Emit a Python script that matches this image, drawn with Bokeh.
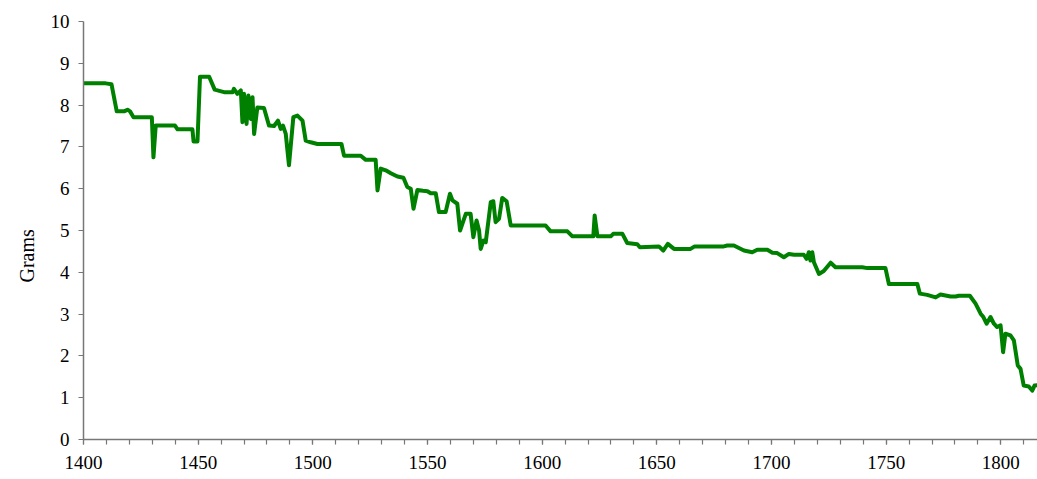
from bokeh.plotting import figure
from bokeh.models import FixedTicker, Range1d, Title
from bokeh.embed import file_html
from bokeh.resources import INLINE

years = [1400.0, 1409.7, 1412.2, 1414.5, 1417.7, 1419.2, 1420.3, 1421.8, 1429.8, 1430.5,
         1431.5, 1439.9, 1441.0, 1447.5, 1448.0, 1449.7, 1450.8, 1454.8, 1457.2, 1461.3,
         1465.0, 1465.6, 1467.1, 1468.6, 1469.3, 1470.0, 1471.1, 1471.9, 1472.9, 1473.7,
         1474.4, 1475.8, 1478.7, 1480.9, 1483.1, 1484.8, 1486.0, 1487.0, 1488.2, 1489.6,
         1491.5, 1493.3, 1495.5, 1496.9, 1499.1, 1502.0, 1512.5, 1513.6, 1520.9, 1523.1,
         1527.4, 1528.2, 1529.6, 1531.8, 1534.0, 1536.9, 1539.5, 1541.2, 1542.7, 1543.9,
         1545.6, 1548.0, 1550.0, 1551.4, 1553.6, 1555.0, 1557.9, 1559.8, 1560.9, 1563.0,
         1564.2, 1566.7, 1568.8, 1570.0, 1571.4, 1572.5, 1573.2, 1574.4, 1575.4, 1577.6,
         1578.7, 1579.7, 1581.2, 1582.6, 1584.5, 1586.3, 1601.5, 1603.7, 1611.0, 1613.2,
         1622.3, 1622.9, 1624.1, 1629.9, 1631.0, 1635.0, 1637.1, 1641.5, 1642.6, 1650.9,
         1652.8, 1654.8, 1657.5, 1664.7, 1666.5, 1679.2, 1680.7, 1683.6, 1688.0, 1691.6,
         1693.8, 1698.2, 1700.4, 1702.5, 1705.4, 1707.6, 1709.8, 1714.1, 1715.3, 1716.3,
         1717.0, 1717.8, 1718.5, 1720.7, 1722.8, 1725.8, 1727.9, 1739.6, 1741.8, 1749.7,
         1751.2, 1763.6, 1764.7, 1767.9, 1771.6, 1773.7, 1778.1, 1780.3, 1781.7, 1786.5,
         1789.0, 1791.2, 1792.4, 1793.8, 1795.5, 1797.0, 1798.4, 1799.9, 1801.0, 1802.0,
         1804.2, 1805.7, 1807.4, 1808.6, 1810.0, 1812.2, 1813.7, 1814.7, 1816.0]

grams = [8.52, 8.52, 8.50, 7.85, 7.85, 7.89, 7.85, 7.71, 7.71, 6.75,
         7.51, 7.51, 7.42, 7.42, 7.13, 7.13, 8.68, 8.68, 8.37, 8.31,
         8.31, 8.39, 8.27, 8.35, 7.59, 8.27, 7.55, 8.23, 7.67, 8.19,
         7.31, 7.94, 7.93, 7.51, 7.50, 7.63, 7.43, 7.51, 7.31, 6.56,
         7.71, 7.75, 7.63, 7.15, 7.11, 7.07, 7.07, 6.79, 6.79, 6.69,
         6.69, 5.96, 6.48, 6.44, 6.37, 6.29, 6.26, 6.04, 6.00, 5.52,
         5.97, 5.95, 5.94, 5.89, 5.89, 5.44, 5.44, 5.88, 5.72, 5.64,
         5.00, 5.40, 5.40, 4.84, 5.24, 5.00, 4.56, 4.76, 4.72, 5.68,
         5.70, 5.20, 5.28, 5.78, 5.70, 5.12, 5.12, 4.98, 4.98, 4.86,
         4.86, 5.36, 4.86, 4.86, 4.92, 4.92, 4.70, 4.67, 4.60, 4.62,
         4.52, 4.68, 4.56, 4.56, 4.62, 4.62, 4.64, 4.64, 4.52, 4.48,
         4.54, 4.54, 4.47, 4.46, 4.36, 4.44, 4.42, 4.42, 4.32, 4.48,
         4.28, 4.48, 4.24, 3.96, 4.03, 4.23, 4.12, 4.12, 4.10, 4.10,
         3.72, 3.72, 3.49, 3.46, 3.40, 3.47, 3.42, 3.42, 3.44, 3.44,
         3.25, 3.01, 2.93, 2.77, 2.93, 2.77, 2.69, 2.73, 2.09, 2.53,
         2.49, 2.37, 1.77, 1.69, 1.29, 1.27, 1.17, 1.29, 1.30]

x_labels = [1400, 1450, 1500, 1550, 1600, 1650, 1700, 1750, 1800]
y_labels = [0, 1, 2, 3, 4, 5, 6, 7, 8, 9, 10]
y_title = "Grams"

FONT = "Liberation Serif"

p = figure(width=1037, height=479, output_backend="svg", toolbar_location=None,
           x_range=Range1d(1400, 1816.0), y_range=Range1d(0, 10),
           min_border_left=83, min_border_right=0, min_border_top=21, min_border_bottom=40)
p.outline_line_color = None
p.grid.grid_line_color = None
p.background_fill_color = "white"
p.border_fill_color = "white"

p.line(years, grams, line_color="#008000", line_width=4, line_join="round")

xa = p.xaxis[0]
xa.ticker = FixedTicker(ticks=x_labels, minor_ticks=list(range(1400, 1820, 10)))
xa.axis_line_color = "#777777"
xa.axis_line_width = 1.5
xa.major_tick_line_color = "#777777"
xa.minor_tick_line_color = "#777777"
xa.major_tick_line_width = 1.2
xa.minor_tick_line_width = 1.2
xa.major_tick_in = 0
xa.major_tick_out = 5
xa.minor_tick_in = 0
xa.minor_tick_out = 5
xa.major_label_standoff = 11
xa.major_label_text_font = FONT
xa.major_label_text_font_size = "19px"
xa.major_label_text_font_style = "normal"
xa.major_label_text_color = "black"

ya = p.yaxis[0]
ya.ticker = FixedTicker(ticks=y_labels, minor_ticks=[])
ya.axis_line_color = "#777777"
ya.axis_line_width = 1.5
ya.major_tick_line_color = "#777777"
ya.major_tick_line_width = 1.2
ya.major_tick_in = 0
ya.major_tick_out = 5
ya.minor_tick_line_color = None
ya.major_label_standoff = 9
ya.major_label_text_font = FONT
ya.major_label_text_font_size = "19px"
ya.major_label_text_font_style = "normal"
ya.major_label_text_color = "black"

t = Title(text=y_title, align="left", offset=157, text_font=FONT,
          text_font_size="20px", text_font_style="normal", text_color="black",
          standoff=20)
p.add_layout(t, "left")

open("out.html", "w").write(file_html(p, INLINE))
